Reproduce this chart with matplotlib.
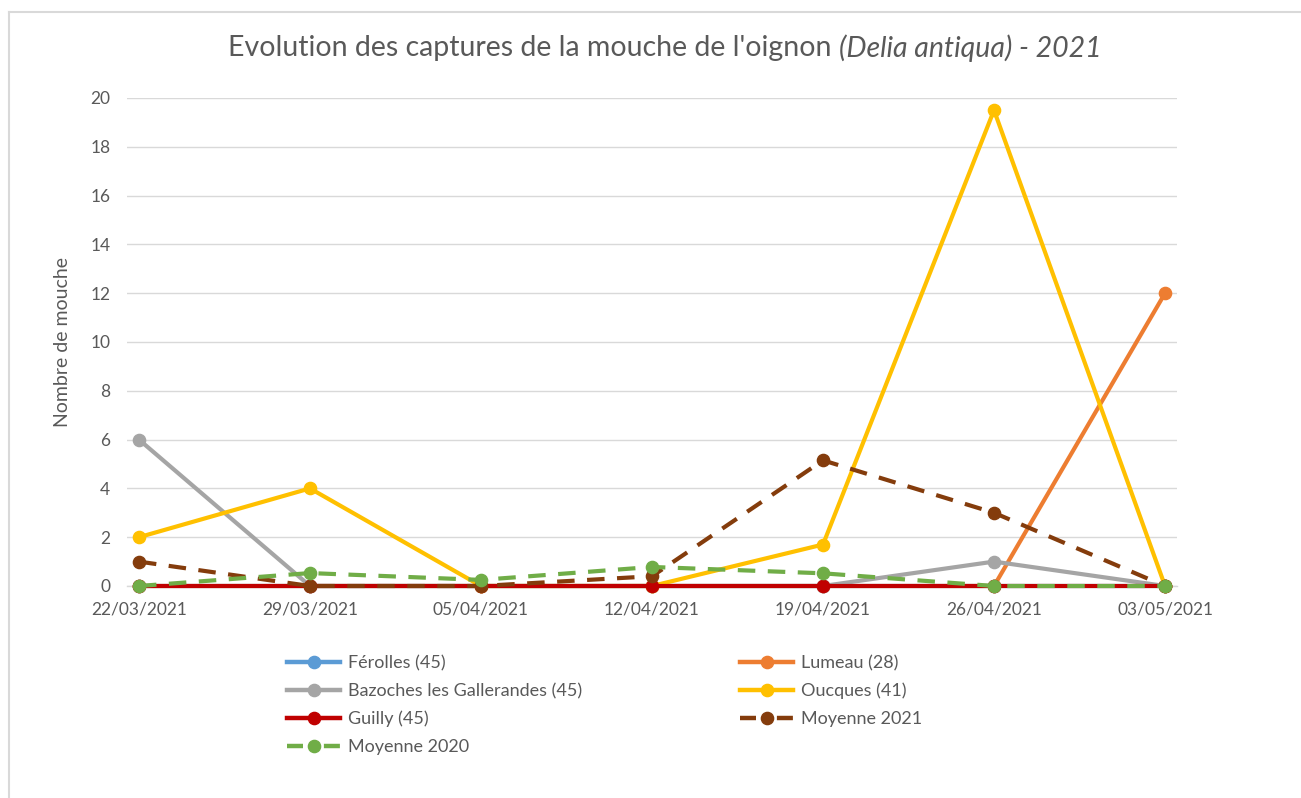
import matplotlib
matplotlib.use("Agg")
import matplotlib.pyplot as plt
from matplotlib.lines import Line2D

dates = ["22/03/2021", "29/03/2021", "05/04/2021", "12/04/2021",
         "19/04/2021", "26/04/2021", "03/05/2021"]
ferolles = [0, 0, 0, 0, 0, 0, 0]
lumeau = [0, 0, 0, 0, 0, 0, 12]
bazoches = [6, 0, 0, 0, 0, 1, 0]
oucques = [2, 4, 0, 0, 1.7, 19.5, 0]
guilly = [0, 0, 0, 0, 0, 0, 0]
moy2021 = [1, 0, 0, 0.4, 5.15, 3, 0]
moy2020 = [0, 0.53, 0.25, 0.78, 0.52, 0, 0]
yticks = [0, 2, 4, 6, 8, 10, 12, 14, 16, 18, 20]

series = [
    ("Férolles (45)", ferolles, "#5B9BD5", "solid"),
    ("Lumeau (28)", lumeau, "#ED7D31", "solid"),
    ("Bazoches les Gallerandes (45)", bazoches, "#A5A5A5", "solid"),
    ("Oucques (41)", oucques, "#FFC000", "solid"),
    ("Guilly (45)", guilly, "#C00000", "solid"),
    ("Moyenne 2021", moy2021, "#843C0C", "dashed"),
    ("Moyenne 2020", moy2020, "#70AD47", "dashed"),
]

FONT = "Lato"
TXT = "#595959"
plt.rcParams["font.family"] = [FONT, "DejaVu Sans"]

W, H = 1301, 798
fig = plt.figure(figsize=(W / 100, H / 100), dpi=100)
ax = fig.add_axes([127 / W, 1 - 586 / H, (1177 - 127) / W, (586 - 98) / H])

x = list(range(len(dates)))
for i, (name, vals, col, ls) in enumerate(series):
    kw = dict(color=col, lw=3.0, marker="o", ms=8.8, mec=col, mfc=col,
              solid_capstyle="round", label=name, clip_on=False, zorder=3 + i * 0.1)
    if ls == "dashed":
        kw.update(dashes=(4.2, 3.0), dash_capstyle="butt")
    ax.plot(x, vals, **kw)

ax.set_xlim(-0.07, len(dates) - 1 + 0.07)
ax.set_ylim(0, 20)
ax.set_yticks(yticks)
ax.set_xticks(x)
ax.set_xticklabels(dates)
ax.grid(axis="y", color="#D9D9D9", lw=1.0)
ax.set_axisbelow(True)
for s in ["top", "right", "left"]:
    ax.spines[s].set_visible(False)
ax.spines["bottom"].set_color("#D9D9D9")
ax.spines["bottom"].set_linewidth(1.0)
ax.spines["bottom"].set_zorder(1)
ax.tick_params(axis="both", length=0, labelsize=12.5, labelcolor=TXT)
ax.tick_params(axis="y", pad=12)
ax.tick_params(axis="x", pad=11)
ax.set_ylabel("Nombre de mouche", fontsize=14, color=TXT, labelpad=14)

# Title with italic part
fig.canvas.draw()
r = fig.canvas.get_renderer()
t1 = fig.text(0, 1 - 48 / H, "Evolution des captures de la mouche de l'oignon ",
              fontsize=20.5, color=TXT, va="center", ha="left")
t2 = fig.text(0, 1 - 48 / H, "(Delia antiqua) - 2021", fontsize=20.5, color=TXT,
              va="center", ha="left", style="italic")
w1 = t1.get_window_extent(r).width
x0 = 228
t1.set_x(x0 / W)
t2.set_x((x0 + w1) / W)

# Frame
fig.add_artist(Line2D([9 / W, 1], [1 - 12 / H, 1 - 12 / H], color="#D9D9D9", lw=1.5,
                      transform=fig.transFigure))
fig.add_artist(Line2D([9 / W, 9 / W], [0, 1 - 12 / H], color="#D9D9D9", lw=1.5,
                      transform=fig.transFigure))

def mk_handle(col, ls):
    kw = dict(color=col, lw=3.2, marker="o", ms=8.8, mec=col, mfc=col)
    if ls == "dashed":
        kw.update(dashes=(3.6, 4.7), dash_capstyle="butt")
    return Line2D([], [], **kw)

left_names = ["Férolles (45)", "Bazoches les Gallerandes (45)", "Guilly (45)", "Moyenne 2020"]
right_names = ["Lumeau (28)", "Oucques (41)", "Moyenne 2021"]
lookup = {n: (c, l) for n, v, c, l in series}
for names, xa in [(left_names, 287), (right_names, 740)]:
    hs = [mk_handle(*lookup[n]) for n in names]
    fig.legend(hs, names, loc="upper left", bbox_to_anchor=(xa / W, 1 - 655 / H),
               frameon=False, borderpad=0, borderaxespad=0, fontsize=13,
               handlelength=2.95, handletextpad=0.42, labelspacing=0.65,
               labelcolor=TXT)

fig.savefig("out.png", dpi=100, facecolor="white")
